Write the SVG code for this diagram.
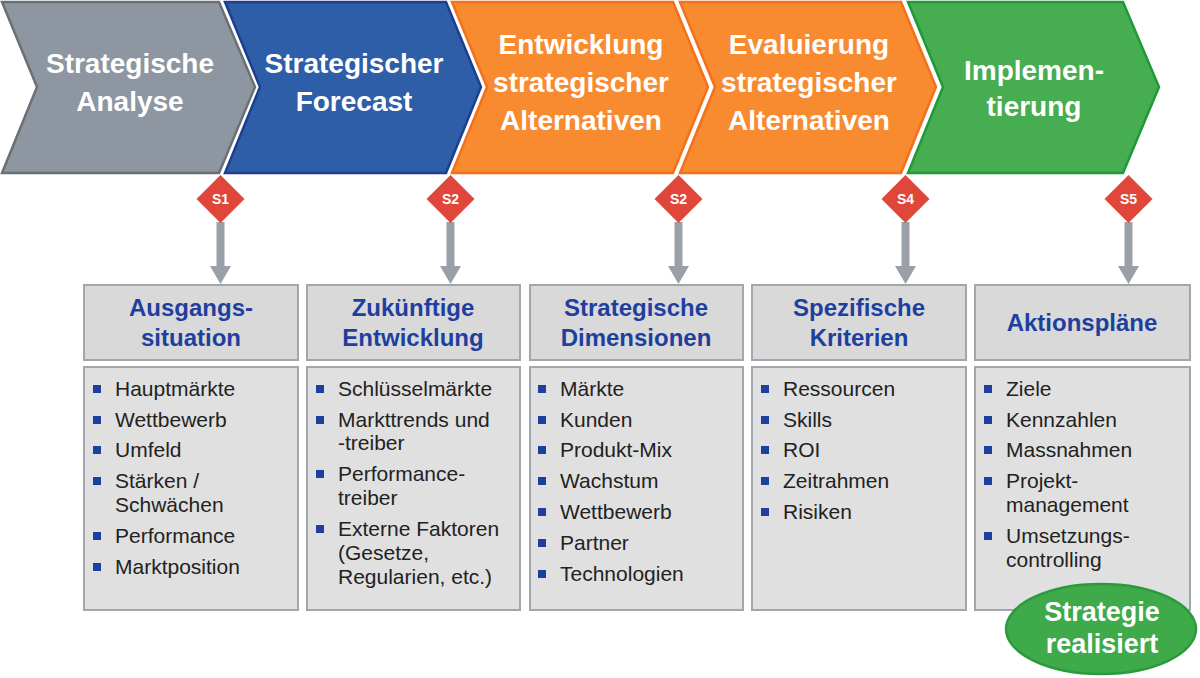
<svg xmlns="http://www.w3.org/2000/svg" width="1200" height="678" viewBox="0 0 1200 678">
<defs>
<style>
.chev{stroke-width:2.5;stroke-linejoin:miter}
.ct{font-family:"Liberation Sans",Arial,sans-serif;font-weight:bold;font-size:28px;fill:#ffffff;text-anchor:middle}
.dia{fill:#e0473a}
.dt{font-family:"Liberation Sans",Arial,sans-serif;font-weight:bold;font-size:14px;fill:#ffffff;text-anchor:middle}
.arr{fill:#9aa0a7}
.hb{fill:#d9d9d9;stroke:#a3a7ab;stroke-width:2}
.cb{fill:#e0e0e0;stroke:#a3a7ab;stroke-width:2}
.ht{font-family:"Liberation Sans",Arial,sans-serif;font-weight:bold;font-size:24px;fill:#1f3f9f;text-anchor:middle}
.it{font-family:"Liberation Sans",Arial,sans-serif;font-size:21px;fill:#222222}
.bu{fill:#1f3f9f}
.et{font-family:"Liberation Sans",Arial,sans-serif;font-weight:bold;font-size:27px;fill:#ffffff;text-anchor:middle}
</style>
</defs>
<g id="phase1"><path class="chev" d="M2,2 L219,2 L255,87 L219,173 L2,173 L37,87 Z" fill="#8d96a1" stroke="#6b7077"/><text class="ct" x="130" y="73">Strategische</text><text class="ct" x="130" y="111">Analyse</text></g>
<g id="phase2"><path class="chev" d="M225,2 L446,2 L481,87 L446,173 L225,173 L260,87 Z" fill="#2f5ea9" stroke="#1d3f8f"/><text class="ct" x="354" y="73">Strategischer</text><text class="ct" x="354" y="111">Forecast</text></g>
<g id="phase3"><path class="chev" d="M452,2 L673,2 L708,87 L673,173 L452,173 L487,87 Z" fill="#f88a30" stroke="#f2711a"/><text class="ct" x="581" y="54">Entwicklung</text><text class="ct" x="581" y="92">strategischer</text><text class="ct" x="581" y="130">Alternativen</text></g>
<g id="phase4"><path class="chev" d="M680,2 L901,2 L936,87 L901,173 L680,173 L715,87 Z" fill="#f88a30" stroke="#f2711a"/><text class="ct" x="809" y="54">Evaluierung</text><text class="ct" x="809" y="92">strategischer</text><text class="ct" x="809" y="130">Alternativen</text></g>
<g id="phase5"><path class="chev" d="M908,2 L1123,2 L1159,87 L1123,173 L908,173 L943,87 Z" fill="#46ad50" stroke="#1f9a38"/><text class="ct" x="1034" y="80">Implemen-</text><text class="ct" x="1034" y="116">tierung</text></g>
<g id="connectors">
<path class="arr" d="M216.5,222 L224.5,222 L224.5,266 L231,266 L220.5,284 L210,266 L216.5,266 Z"/>
<path class="arr" d="M446.5,222 L454.5,222 L454.5,266 L461,266 L450.5,284 L440,266 L446.5,266 Z"/>
<path class="arr" d="M674.5,222 L682.5,222 L682.5,266 L689,266 L678.5,284 L668,266 L674.5,266 Z"/>
<path class="arr" d="M901.5,222 L909.5,222 L909.5,266 L916,266 L905.5,284 L895,266 L901.5,266 Z"/>
<path class="arr" d="M1124.5,222 L1132.5,222 L1132.5,266 L1139,266 L1128.5,284 L1118,266 L1124.5,266 Z"/>
</g>
<g id="s1"><path class="dia" d="M220.5,175 L244.5,199 L220.5,223 L196.5,199 Z"/><text class="dt" x="220.5" y="204">S1</text></g>
<g id="s2a"><path class="dia" d="M450.5,175 L474.5,199 L450.5,223 L426.5,199 Z"/><text class="dt" x="450.5" y="204">S2</text></g>
<g id="s2b"><path class="dia" d="M678.5,175 L702.5,199 L678.5,223 L654.5,199 Z"/><text class="dt" x="678.5" y="204">S2</text></g>
<g id="s4"><path class="dia" d="M905.5,175 L929.5,199 L905.5,223 L881.5,199 Z"/><text class="dt" x="905.5" y="204">S4</text></g>
<g id="s5"><path class="dia" d="M1128.5,175 L1152.5,199 L1128.5,223 L1104.5,199 Z"/><text class="dt" x="1128.5" y="204">S5</text></g>
<g id="col1">
<rect class="hb" x="84" y="285" width="214" height="75"/>
<text class="ht" x="191" y="316">Ausgangs-</text><text class="ht" x="191" y="346">situation</text>
<rect class="cb" x="84" y="367" width="214" height="243"/>
<rect class="bu" x="93" y="385" width="8" height="8"/><text class="it" x="115" y="396">Hauptmärkte</text>
<rect class="bu" x="93" y="416" width="8" height="8"/><text class="it" x="115" y="427">Wettbewerb</text>
<rect class="bu" x="93" y="446" width="8" height="8"/><text class="it" x="115" y="457">Umfeld</text>
<rect class="bu" x="93" y="477" width="8" height="8"/><text class="it" x="115" y="488">Stärken /</text><text class="it" x="115" y="512">Schwächen</text>
<rect class="bu" x="93" y="532" width="8" height="8"/><text class="it" x="115" y="543">Performance</text>
<rect class="bu" x="93" y="563" width="8" height="8"/><text class="it" x="115" y="574">Marktposition</text>
</g>
<g id="col2">
<rect class="hb" x="307" y="285" width="213" height="75"/>
<text class="ht" x="413" y="316">Zukünftige</text><text class="ht" x="413" y="346">Entwicklung</text>
<rect class="cb" x="307" y="367" width="213" height="243"/>
<rect class="bu" x="316" y="385" width="8" height="8"/><text class="it" x="338" y="396">Schlüsselmärkte</text>
<rect class="bu" x="316" y="416" width="8" height="8"/><text class="it" x="338" y="427">Markttrends und</text><text class="it" x="338" y="450">-treiber</text>
<rect class="bu" x="316" y="470" width="8" height="8"/><text class="it" x="338" y="481">Performance-</text><text class="it" x="338" y="505">treiber</text>
<rect class="bu" x="316" y="525" width="8" height="8"/><text class="it" x="338" y="536">Externe Faktoren</text><text class="it" x="338" y="560">(Gesetze,</text><text class="it" x="338" y="584">Regularien, etc.)</text>
</g>
<g id="col3">
<rect class="hb" x="530" y="285" width="213" height="75"/>
<text class="ht" x="636" y="316">Strategische</text><text class="ht" x="636" y="346">Dimensionen</text>
<rect class="cb" x="530" y="367" width="213" height="243"/>
<rect class="bu" x="538" y="385" width="8" height="8"/><text class="it" x="560" y="396">Märkte</text>
<rect class="bu" x="538" y="416" width="8" height="8"/><text class="it" x="560" y="427">Kunden</text>
<rect class="bu" x="538" y="446" width="8" height="8"/><text class="it" x="560" y="457">Produkt-Mix</text>
<rect class="bu" x="538" y="477" width="8" height="8"/><text class="it" x="560" y="488">Wachstum</text>
<rect class="bu" x="538" y="508" width="8" height="8"/><text class="it" x="560" y="519">Wettbewerb</text>
<rect class="bu" x="538" y="539" width="8" height="8"/><text class="it" x="560" y="550">Partner</text>
<rect class="bu" x="538" y="570" width="8" height="8"/><text class="it" x="560" y="581">Technologien</text>
</g>
<g id="col4">
<rect class="hb" x="752" y="285" width="214" height="75"/>
<text class="ht" x="859" y="316">Spezifische</text><text class="ht" x="859" y="346">Kriterien</text>
<rect class="cb" x="752" y="367" width="214" height="243"/>
<rect class="bu" x="761" y="385" width="8" height="8"/><text class="it" x="783" y="396">Ressourcen</text>
<rect class="bu" x="761" y="416" width="8" height="8"/><text class="it" x="783" y="427">Skills</text>
<rect class="bu" x="761" y="446" width="8" height="8"/><text class="it" x="783" y="457">ROI</text>
<rect class="bu" x="761" y="477" width="8" height="8"/><text class="it" x="783" y="488">Zeitrahmen</text>
<rect class="bu" x="761" y="508" width="8" height="8"/><text class="it" x="783" y="519">Risiken</text>
</g>
<g id="col5">
<rect class="hb" x="975" y="285" width="215" height="75"/>
<text class="ht" x="1082" y="331">Aktionspläne</text>
<rect class="cb" x="975" y="367" width="215" height="243"/>
<rect class="bu" x="984" y="385" width="8" height="8"/><text class="it" x="1006" y="396">Ziele</text>
<rect class="bu" x="984" y="416" width="8" height="8"/><text class="it" x="1006" y="427">Kennzahlen</text>
<rect class="bu" x="984" y="446" width="8" height="8"/><text class="it" x="1006" y="457">Massnahmen</text>
<rect class="bu" x="984" y="477" width="8" height="8"/><text class="it" x="1006" y="488">Projekt-</text><text class="it" x="1006" y="512">management</text>
<rect class="bu" x="984" y="532" width="8" height="8"/><text class="it" x="1006" y="543">Umsetzungs-</text><text class="it" x="1006" y="567">controlling</text>
</g>
<g id="result">
<ellipse cx="1101" cy="629" rx="95" ry="45" fill="#3eaa4a" stroke="#2a9a3c" stroke-width="2.5"/>
<text class="et" x="1102" y="621">Strategie</text><text class="et" x="1102" y="653">realisiert</text>
</g>
</svg>
